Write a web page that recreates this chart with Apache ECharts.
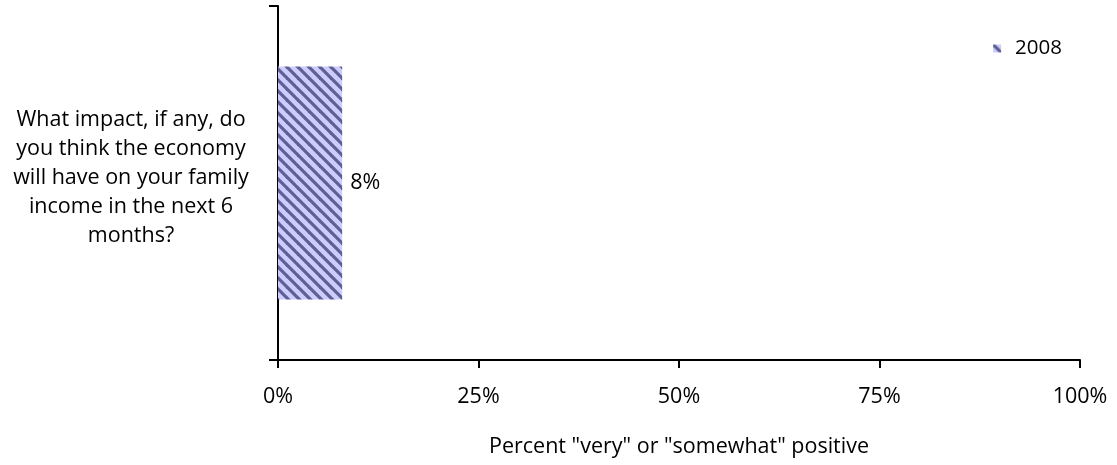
<!DOCTYPE html>
<html>
<head>
<meta charset="utf-8">
<script src="https://cdn.jsdelivr.net/npm/echarts@6/dist/echarts.min.js"></script>
<style>
html,body{margin:0;padding:0;background:#fff;}
#chart{width:1117px;height:465px;}
</style>
</head>
<body>
<div id="chart"></div>
<script>
const categories = ['What impact, if any, do\nyou think the economy\nwill have on your family\nincome in the next 6\nmonths?'];
const seriesName = '2008';
const values = [8];
const xTicks = [0, 25, 50, 75, 100];
const axisTitle = 'Percent "very" or "somewhat" positive';

function makePattern() {
  const s = 11;
  const c = document.createElement('canvas');
  c.width = s; c.height = s;
  const ctx = c.getContext('2d');
  ctx.fillStyle = '#ccccff';
  ctx.fillRect(0, 0, s, s);
  ctx.strokeStyle = '#5f5f92';
  ctx.lineWidth = 3.2;
  for (let k = -1; k <= 1; k++) {
    ctx.beginPath();
    ctx.moveTo(k * s - 2, -2);
    ctx.lineTo(k * s + s + 2, s + 2);
    ctx.stroke();
  }
  return c;
}
const pattern = { image: makePattern(), repeat: 'repeat' };
const font = '"Open Sans", Lato, "DejaVu Sans", sans-serif';
const fs = 21.5;

const chart = echarts.init(document.getElementById('chart'), null, { renderer: 'canvas' });
chart.setOption({
  animation: false,
  textStyle: { fontFamily: font },
  grid: { left: 278, right: 37, top: 6, bottom: 105 },
  legend: {
    data: [{ name: seriesName, icon: 'rect' }],
    right: 50, top: 33,
    itemWidth: 8, itemHeight: 8, itemGap: 6,
    textStyle: { fontSize: 20.5, color: '#000', fontFamily: font, padding: [0, 0, 0, 9] }
  },
  xAxis: {
    type: 'value', min: 0, max: 100, interval: 25,
    axisLine: { show: true, lineStyle: { color: '#000', width: 2 } },
    axisTick: { show: true, length: 8, lineStyle: { color: '#000', width: 2 } },
    splitLine: { show: false },
    axisLabel: { formatter: v => v + '%', fontSize: fs, color: '#000', margin: 26, fontFamily: font,
      customValues: xTicks },
    name: axisTitle, nameLocation: 'middle', nameGap: 76,
    nameTextStyle: { fontSize: fs, color: '#000', fontFamily: font }
  },
  yAxis: {
    type: 'category', data: categories,
    axisLine: { show: true, lineStyle: { color: '#000', width: 2 } },
    axisTick: { show: true, length: 9, alignWithLabel: false, lineStyle: { color: '#000', width: 2 } },
    axisLabel: { fontSize: fs, color: '#000', align: 'center', margin: 147, lineHeight: 29, fontFamily: font,
      formatter: v => v + '\n{s|}',
      rich: { s: { lineHeight: 10, fontSize: 1 } } }
  },
  series: [{
    name: seriesName, type: 'bar', data: values, barWidth: 233,
    itemStyle: { color: pattern },
    label: { show: true, position: 'right', formatter: p => p.value + '%', fontSize: fs, color: '#000', distance: 8, fontFamily: font }
  }]
});
</script>
</body>
</html>
